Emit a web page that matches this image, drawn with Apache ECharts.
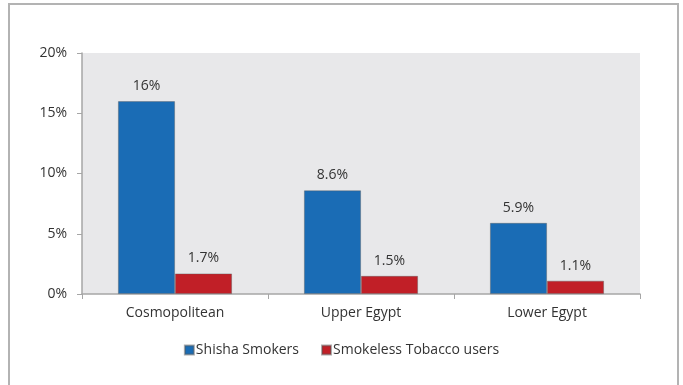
<!DOCTYPE html>
<html>
<head>
<meta charset="utf-8">
<script src="https://cdn.jsdelivr.net/npm/echarts@6/dist/echarts.min.js"></script>
<style>
html,body{margin:0;padding:0;background:#fff;}
#chart{width:683px;height:385px;}
</style>
</head>
<body>
<div id="chart"></div>
<script>
// Prevalence by region (%)
const regions = ['Cosmopolitean', 'Upper Egypt', 'Lower Egypt'];
const shisha = [16, 8.6, 5.9];
const smokeless = [1.7, 1.5, 1.1];
const yTicks = [0, 5, 10, 15, 20];

const font = '"Open Sans", "Liberation Sans", sans-serif';
const textColor = '#333';

const chart = echarts.init(document.getElementById('chart'));

function fmtPct(v) {
  return v + '%';
}

chart.setOption({
  animation: false,
  textStyle: { fontFamily: font },
  graphic: [{
    type: 'rect',
    shape: { x: 9, y: 4, width: 669, height: 400 },
    style: { fill: 'none', stroke: '#b3b3b3', lineWidth: 2 },
    silent: true
  }],
  grid: {
    left: 82, right: 43, top: 53, bottom: 91,
    show: true, backgroundColor: '#e8e8ea', borderWidth: 0
  },
  legend: {
    bottom: 23, left: 'center',
    itemWidth: 9, itemHeight: 9, itemGap: 22,
    icon: 'rect',
    textStyle: { fontFamily: font, fontSize: 14, color: textColor, padding: [0, 0, 0, -3] },
    data: ['Shisha Smokers', 'Smokeless Tobacco users']
  },
  xAxis: {
    type: 'category',
    data: regions,
    axisLine: { lineStyle: { color: '#a6a6a6', width: 1.5 } },
    axisTick: { show: true, alignWithLabel: false, length: 5, lineStyle: { color: '#a6a6a6' } },
    axisLabel: { fontFamily: font, fontSize: 14, color: textColor, margin: 12 }
  },
  yAxis: {
    type: 'value',
    min: yTicks[0], max: yTicks[yTicks.length - 1], interval: 5,
    axisLine: { show: true, lineStyle: { color: '#a6a6a6', width: 1.5 } },
    axisTick: { show: true, length: 5, lineStyle: { color: '#a6a6a6' } },
    splitLine: { show: false },
    axisLabel: { fontFamily: font, fontSize: 14, color: textColor, margin: 15, formatter: fmtPct }
  },
  series: [
    {
      name: 'Shisha Smokers',
      type: 'bar',
      data: shisha,
      barWidth: 57,
      barGap: '0%',
      itemStyle: { color: '#1a6cb5', borderColor: 'rgba(90,90,90,0.5)', borderWidth: 0.8 },
      label: { show: true, position: 'top', distance: 8, fontFamily: font, fontSize: 14, color: textColor, formatter: p => fmtPct(p.value) }
    },
    {
      name: 'Smokeless Tobacco users',
      type: 'bar',
      data: smokeless,
      barWidth: 57,
      barGap: '0%',
      itemStyle: { color: '#c11f27', borderColor: 'rgba(90,90,90,0.5)', borderWidth: 0.8 },
      label: { show: true, position: 'top', distance: 8, fontFamily: font, fontSize: 14, color: textColor, formatter: p => fmtPct(p.value) }
    }
  ]
});
</script>
</body>
</html>
